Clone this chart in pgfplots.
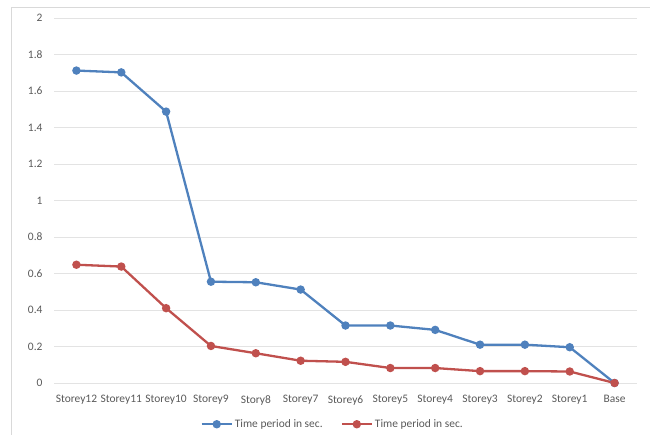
\documentclass[border=0pt]{standalone}
\usepackage{pgfplots}
\pgfplotsset{compat=1.18}
\usepackage{fontspec}
\setmainfont{Carlito}
\definecolor{xlblue}{HTML}{4F81BD}
\definecolor{xlred}{HTML}{C0504D}
\definecolor{txtgray}{HTML}{595959}
\definecolor{gridgray}{HTML}{E3E3E3}
\definecolor{framegray}{HTML}{D9D9D9}

\pgfplotstableread{
idx blue red
0  1.712 0.648
1  1.702 0.638
2  1.487 0.410
3  0.555 0.203
4  0.552 0.163
5  0.512 0.122
6  0.315 0.116
7  0.315 0.082
8  0.291 0.082
9  0.210 0.065
10 0.210 0.065
11 0.196 0.063
12 0.000 0.000
}\periods

\begin{document}
\begin{tikzpicture}
\path[use as bounding box] (0bp,0bp) rectangle (650bp,435bp);
\draw[framegray, line width=0.8bp] (11bp,0bp) -- (11bp,428bp) -- (650bp,428bp);
\begin{axis}[
  at={(54bp,52bp)}, anchor=south west,
  scale only axis, width=583bp, height=365bp,
  xmin=-0.5, xmax=12.5, ymin=0, ymax=2,
  xtick={0,...,12},
  xticklabels={Storey12,Storey11,Storey10,Storey9,Story8,Storey7,Storey6,Storey5,Storey4,Storey3,Storey2,Storey1,Base},
  ytick={0,0.2,0.4,0.6,0.8,1,1.2,1.4,1.6,1.8,2},
  yticklabels={0,0.2,0.4,0.6,0.8,1,1.2,1.4,1.6,1.8,2},
  axis line style={draw=none},
  major tick length=0pt,
  ymajorgrids, grid style={gridgray, line width=0.8bp},
  tick label style={font=\fontsize{11.5}{12}\selectfont, text=txtgray},
  xticklabel style={yshift=-9bp},
  yticklabel style={xshift=-8bp},
  legend style={at={(0.478,-0.113)}, anchor=center, draw=none, fill=none,
    font=\fontsize{11.5}{12}\selectfont, text=txtgray,
    /tikz/every even column/.append style={column sep=16bp}},
  legend columns=2,
  legend image code/.code={
    \draw[#1, mark repeat=2, mark phase=2] plot coordinates {(0,0) (15bp,0) (30bp,0)};},
]
\addplot[xlblue, line width=2.3bp, mark=*, mark size=3bp, mark options={solid}]
  table[x=idx, y=blue] {\periods};
\addlegendentry{Time period in sec.}
\addplot[xlred, line width=2.3bp, mark=*, mark size=3bp, mark options={solid}]
  table[x=idx, y=red] {\periods};
\addlegendentry{Time period in sec.}
\end{axis}
\end{tikzpicture}
\end{document}
